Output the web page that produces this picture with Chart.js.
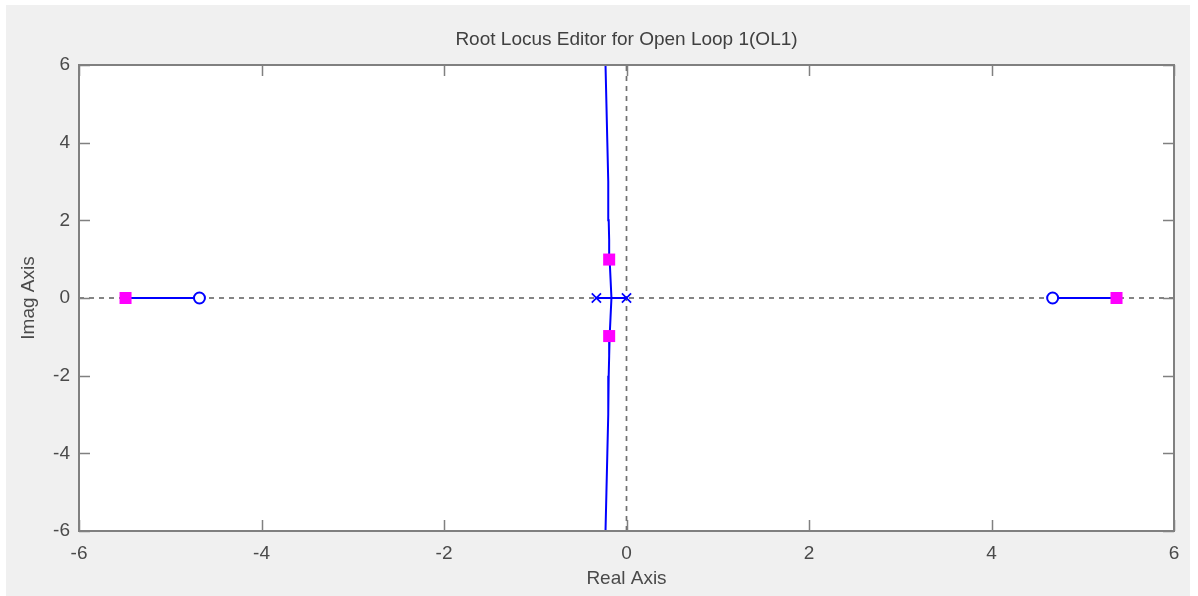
<!DOCTYPE html>
<html>
<head>
<meta charset="utf-8">
<script src="https://cdn.jsdelivr.net/npm/chart.js@4.4.1/dist/chart.umd.min.js"></script>
<style>
  html, body { margin: 0; padding: 0; background: #ffffff; }
  #wrap { position: relative; width: 1198px; height: 596px; }
  canvas { display: block; }
</style>
</head>
<body>
<div id="wrap"><canvas id="c" width="1198" height="596"></canvas></div>
<script>
// ---- Data ----
const titleText = "Root Locus Editor for Open Loop 1(OL1)";
const xAxisTitle = "Real Axis";
const yAxisTitle = "Imag Axis";
const axisMin = -6;
const axisMax = 6;
const tickStep = 2;

// open-loop poles (x markers)
const polesRe = [-0.33, 0.0];
const polesIm = [0, 0];
// open-loop zeros (o markers)
const zerosRe = [-4.68, 4.67];
const zerosIm = [0, 0];
// closed-loop poles (magenta squares)
const clPolesRe = [-5.49, 5.37, -0.19, -0.19];
const clPolesIm = [0, 0, 0.99, -0.98];

// locus branches
const branchPolesRe = [-0.33, 0.0];
const branchPolesIm = [0, 0];
const branchUpperRe = [-0.165, -0.175, -0.185, -0.19, -0.195, -0.2, -0.21, -0.22, -0.23];
const branchUpperIm = [0, 0.5, 1, 1.5, 2, 3, 4, 5, 6];
const branchLowerRe = [-0.165, -0.175, -0.185, -0.19, -0.195, -0.2, -0.21, -0.22, -0.23];
const branchLowerIm = [0, -0.5, -1, -1.5, -2, -3, -4, -5, -6];
const branchLeftRe = [-5.49, -4.68];
const branchLeftIm = [0, 0];
const branchRightRe = [4.67, 5.37];
const branchRightIm = [0, 0];

// zero reference axes (dashed)
const hAxisRe = [-6, 6];
const hAxisIm = [0, 0];
const vAxisRe = [0, 0];
const vAxisIm = [-6, 6];

const pts = (xs, ys) => xs.map((x, i) => ({ x: x, y: ys[i] }));

const BLUE = '#0000ff';
const MAG = '#ff00ff';
const DASH = '#707070';
const FONT = 'Liberation Sans, Arial, sans-serif';
const TXT = '#4a4a4a';
const FS = 19;

const lineDs = (label, xs, ys) => ({
  label, data: pts(xs, ys), showLine: true, borderColor: BLUE, borderWidth: 2,
  pointRadius: 0, pointHoverRadius: 0, fill: false, tension: 0, order: 5
});

const datasets = [
  { label: 'h0', data: pts(hAxisRe, hAxisIm), showLine: true, borderColor: DASH, borderWidth: 1.7,
    borderDash: [5, 5], pointRadius: 0, order: 10 },
  { label: 'v0', data: pts(vAxisRe, vAxisIm), showLine: true, borderColor: DASH, borderWidth: 1.7,
    borderDash: [5, 5], pointRadius: 0, order: 10 },
  lineDs('bp', branchPolesRe, branchPolesIm),
  lineDs('bu', branchUpperRe, branchUpperIm),
  lineDs('bl', branchLowerRe, branchLowerIm),
  lineDs('bL', branchLeftRe, branchLeftIm),
  lineDs('bR', branchRightRe, branchRightIm),
  { label: 'zeros', data: pts(zerosRe, zerosIm), showLine: false, pointStyle: 'circle',
    pointRadius: 5.5, borderWidth: 2, borderColor: BLUE, backgroundColor: '#ffffff', order: 2 },
  { label: 'poles', data: pts(polesRe, polesIm), showLine: false, pointStyle: 'crossRot',
    pointRadius: 6.5, borderWidth: 1.7, borderColor: BLUE, backgroundColor: BLUE, order: 2 },
  { label: 'cl', data: pts(clPolesRe, clPolesIm), showLine: false, pointStyle: 'rect',
    pointRadius: 8.5, borderWidth: 0, borderColor: MAG, backgroundColor: MAG, order: 1 }
];

const frame = {
  id: 'frame',
  beforeDraw(chart) {
    const ctx = chart.ctx;
    ctx.save();
    ctx.fillStyle = '#ffffff';
    ctx.fillRect(0, 0, chart.width, chart.height);
    ctx.fillStyle = '#f0f0f0';
    ctx.fillRect(6, 5, 1184, 591);
    const a = chart.chartArea;
    ctx.fillStyle = '#ffffff';
    ctx.fillRect(a.left, a.top, a.right - a.left, a.bottom - a.top);
    ctx.restore();
  },
  afterDraw(chart) {
    const ctx = chart.ctx;
    const a = chart.chartArea;
    const xs = chart.scales.x, ys = chart.scales.y;
    const tl = 11;
    ctx.save();
    ctx.strokeStyle = '#808080';
    ctx.lineWidth = 1.5;
    ctx.beginPath();
    xs.ticks.forEach(t => {
      const px = Math.round(xs.getPixelForValue(t.value)) + 0.5;
      ctx.moveTo(px, a.bottom); ctx.lineTo(px, a.bottom - tl);
      ctx.moveTo(px, a.top); ctx.lineTo(px, a.top + tl);
    });
    ys.ticks.forEach(t => {
      const py = Math.round(ys.getPixelForValue(t.value)) + 0.5;
      ctx.moveTo(a.left, py); ctx.lineTo(a.left + tl, py);
      ctx.moveTo(a.right, py); ctx.lineTo(a.right - tl, py);
    });
    ctx.stroke();
    ctx.lineWidth = 2;
    ctx.strokeRect(a.left, a.top, a.right - a.left, a.bottom - a.top);
    // title centred over the plot area
    ctx.fillStyle = '#404040';
    ctx.font = FS + 'px ' + FONT;
    ctx.textAlign = 'center';
    ctx.textBaseline = 'middle';
    ctx.fillText(titleText, (a.left + a.right) / 2, 40);
    ctx.restore();
  }
};

new Chart(document.getElementById('c'), {
  type: 'scatter',
  data: { datasets },
  plugins: [frame],
  options: {
    responsive: false,
    animation: false,
    events: [],
    layout: { padding: { left: 0, right: 24, top: 65, bottom: 0 } },
    plugins: {
      legend: { display: false },
      tooltip: { enabled: false },
      title: { display: false }
    },
    scales: {
      x: {
        type: 'linear', min: axisMin, max: axisMax,
        afterFit(s) { s.height = 65; },
        grid: { display: false, drawTicks: false },
        border: { display: false },
        ticks: { stepSize: tickStep, color: TXT, padding: 11, font: { family: FONT, size: FS } },
        title: { display: true, text: xAxisTitle, color: TXT, padding: { top: 0, bottom: 6 },
                 font: { family: FONT, size: FS } }
      },
      y: {
        type: 'linear', min: axisMin, max: axisMax,
        afterFit(s) { s.width = 79; },
        grid: { display: false, drawTicks: false },
        border: { display: false },
        ticks: { stepSize: tickStep, color: TXT, padding: 9, font: { family: FONT, size: FS } },
        title: { display: true, text: yAxisTitle, color: TXT, padding: { top: 17, bottom: 0 },
                 font: { family: FONT, size: FS } }
      }
    }
  }
});
</script>
</body>
</html>
